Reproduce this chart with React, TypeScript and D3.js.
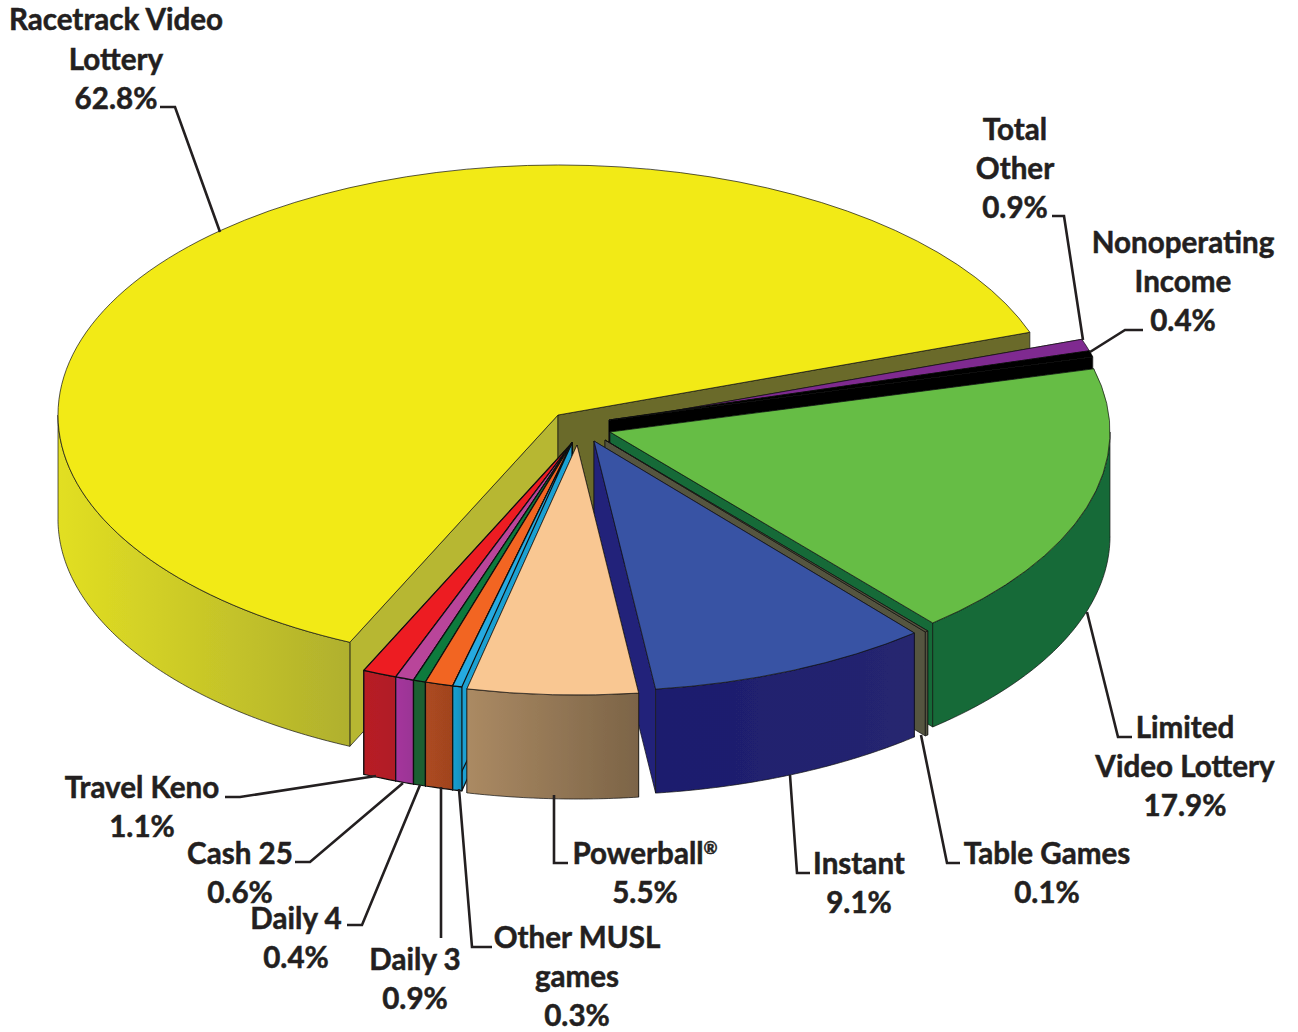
import React from 'react'
import * as d3 from 'd3'

// chart values, clockwise from the Racetrack slice
const names = ['Racetrack Video Lottery', 'Total Other', 'Nonoperating Income', 'Limited Video Lottery', 'Table Games', 'Instant', 'Powerball', 'Other MUSL games', 'Daily 3', 'Daily 4', 'Cash 25', 'Travel Keno']
const shares = [62.8, 0.9, 0.4, 17.9, 0.1, 9.1, 5.5, 0.3, 0.9, 0.4, 0.6, 1.1]

// styles per slice, same order
const topColors = ['#f2ea17', '#7f2a90', '#000000', '#66bd45', '#55553f', '#3953a4', '#f9c792', '#27aae1', '#f26522', '#0f7a3d', '#b9459a', '#ed1c24']
const wallFrom = ['#e2df22', '#7f2a90', '#000000', '#136b37', '#55553f', '#1c1c6e', '#ab8a63', '#1aa0d2', '#ad4a20', '#1b5e30', '#a5369c', '#b81e24']
const wallTo = ['#b0b02e', '#7f2a90', '#000000', '#136b37', '#55553f', '#26266f', '#7c6447', '#1590bd', '#a0431f', '#1b5e30', '#9a3595', '#b01f26']
const startFace = ['#b7b733', '#7f2a90', '#000000', '#136b37', '#55553f', '#22227a', '#ab8a63', '#1aa0d2', '#ad4a20', '#1b5e30', '#a5369c', '#b81e24']
const endFace = ['#6b6b2b', '#7f2a90', '#000000', '#136b37', '#55553f', '#22227a', '#ab8a63', '#1aa0d2', '#ad4a20', '#1b5e30', '#a5369c', '#b81e24']

// each slice is pulled out by hand in the original, so each has its own apex
const apexes = [[558, 415], [610, 422], [609, 420], [610, 432], [605, 440], [594, 441], [577, 445], [572, 443], [572, 443], [572, 443], [572, 443], [572, 443]]
const paintOrder = [0, 1, 2, 3, 4, 5, 11, 10, 9, 8, 7, 6]
const thickEdges = ['Other MUSL games', 'Daily 3', 'Daily 4', 'Cash 25', 'Travel Keno']

const rx = 500
const ry = 250
const depth = 104
const firstAngle = (204.6 * Math.PI) / 180
const turn = 2 * Math.PI

const labels = [
  { x: 116, lines: [['Racetrack Video', 30], ['Lottery', 70], ['62.8%', 109]] },
  { x: 1015, lines: [['Total', 140], ['Other', 179], ['0.9%', 218]] },
  { x: 1183, lines: [['Nonoperating', 253], ['Income', 292], ['0.4%', 331]] },
  { x: 1185, lines: [['Limited', 738], ['Video Lottery', 777], ['17.9%', 816]] },
  { x: 1047, lines: [['Table Games', 864], ['0.1%', 903]] },
  { x: 859, lines: [['Instant', 874], ['9.1%', 913]] },
  { x: 645, lines: [['Powerball', 864], ['5.5%', 903]] },
  { x: 577, lines: [['Other MUSL', 948], ['games', 987], ['0.3%', 1026]] },
  { x: 415, lines: [['Daily 3', 970], ['0.9%', 1009]] },
  { x: 296, lines: [['Daily 4', 929], ['0.4%', 968]] },
  { x: 240, lines: [['Cash 25', 864], ['0.6%', 903]] },
  { x: 142, lines: [['Travel Keno', 798], ['1.1%', 837]] },
]

const leaders = [
  [[160, 107], [175, 107], [220, 232]],
  [[1052, 216], [1064, 216], [1083, 340]],
  [[1143, 330], [1125, 330], [1090, 352]],
  [[1087, 612], [1118, 737], [1132, 737]],
  [[921, 735], [947, 863], [960, 863]],
  [[790, 775], [797, 873], [810, 873]],
  [[554, 795], [554, 863], [568, 863]],
  [[459, 789], [472, 947], [492, 947]],
  [[441, 787], [441, 938]],
  [[420, 785], [362, 925], [347, 925]],
  [[403, 783], [310, 862], [295, 862]],
  [[376, 776], [240, 797], [225, 797]],
]

const pieGen = d3.pie<number>().sort(null).startAngle(firstAngle).endAngle(firstAngle + turn)
const arcGen = d3.arc<d3.PieArcDatum<number>>().innerRadius(0).outerRadius(rx)
const leaderLine = d3.line()

const rimX = (apex: number[], a: number) => apex[0] + rx * Math.sin(a)
const rimY = (apex: number[], a: number) => apex[1] - ry * Math.cos(a)

// side wall of the cut edge, apex to rim and down
const facePath = (apex: number[], a: number) => {
  const pts: [number, number][] = [
    [apex[0], apex[1]],
    [rimX(apex, a), rimY(apex, a)],
    [rimX(apex, a), rimY(apex, a) + depth],
    [apex[0], apex[1] + depth],
  ]
  return leaderLine(pts) + 'Z'
}

// outer wall, only the part facing the viewer
const wallPath = (apex: number[], a0: number, a1: number) => {
  // slices after the first run past a full turn
  const shift = a0 >= turn ? turn : 0
  const from = Math.max(a0 - shift, Math.PI / 2)
  const to = Math.min(a1 - shift, (3 * Math.PI) / 2)
  if (from >= to) return null
  const steps = d3.range(from, to, 0.01).concat(to)
  return d3.area<number>()
    .x(a => rimX(apex, a))
    .y0(a => rimY(apex, a))
    .y1(a => rimY(apex, a) + depth)(steps)
}

export default function App() {
  const slices = pieGen(shares)
  return (
    <svg width={1298} height={1032} style={{ position: 'absolute', left: 0, top: 0, background: '#fff' }}>
      <defs>
        {names.map((n, i) => (
          <linearGradient key={n} id={'wall' + i}>
            <stop offset="0" stopColor={wallFrom[i]} />
            <stop offset="1" stopColor={wallTo[i]} />
          </linearGradient>
        ))}
        <filter id="soft" x="-5%" y="-5%" width="110%" height="110%">
          <feGaussianBlur stdDeviation="0.6" />
        </filter>
      </defs>

      <g filter="url(#soft)">
        {paintOrder.map(i => {
          const d = slices[i]
          const apex = apexes[i]
          const wall = wallPath(apex, d.startAngle, d.endAngle)
          return (
            <g key={names[i]} stroke="#111" strokeWidth={thickEdges.includes(names[i]) ? 1.2 : 0.7} strokeLinejoin="round">
              <path d={facePath(apex, d.startAngle)} fill={startFace[i]} />
              <path d={facePath(apex, d.endAngle)} fill={endFace[i]} />
              {wall && <path d={wall} fill={`url(#wall${i})`} />}
              <path
                d={arcGen(d) as string}
                fill={topColors[i]}
                vectorEffect="non-scaling-stroke"
                transform={`translate(${apex[0]},${apex[1]}) scale(1,${ry / rx})`}
              />
            </g>
          )
        })}
      </g>

      <g fill="none" stroke="#231f20" strokeWidth={2.6}>
        {leaders.map((pts, i) => (
          <path key={i} d={leaderLine(pts as [number, number][]) as string} />
        ))}
      </g>

      <g fontFamily="Lato, 'Open Sans', sans-serif" fontWeight={700} fontSize={29.6} fill="#231f20" stroke="#231f20" strokeWidth={0.5} textAnchor="middle">
        {labels.map(l =>
          l.lines.map(([txt, y]) => (
            <text key={txt + String(y)} x={l.x} y={y as number}>
              {txt}
              {txt === 'Powerball' && <tspan fontSize={17} dy={-10}>®</tspan>}
            </text>
          ))
        )}
      </g>
    </svg>
  )
}
